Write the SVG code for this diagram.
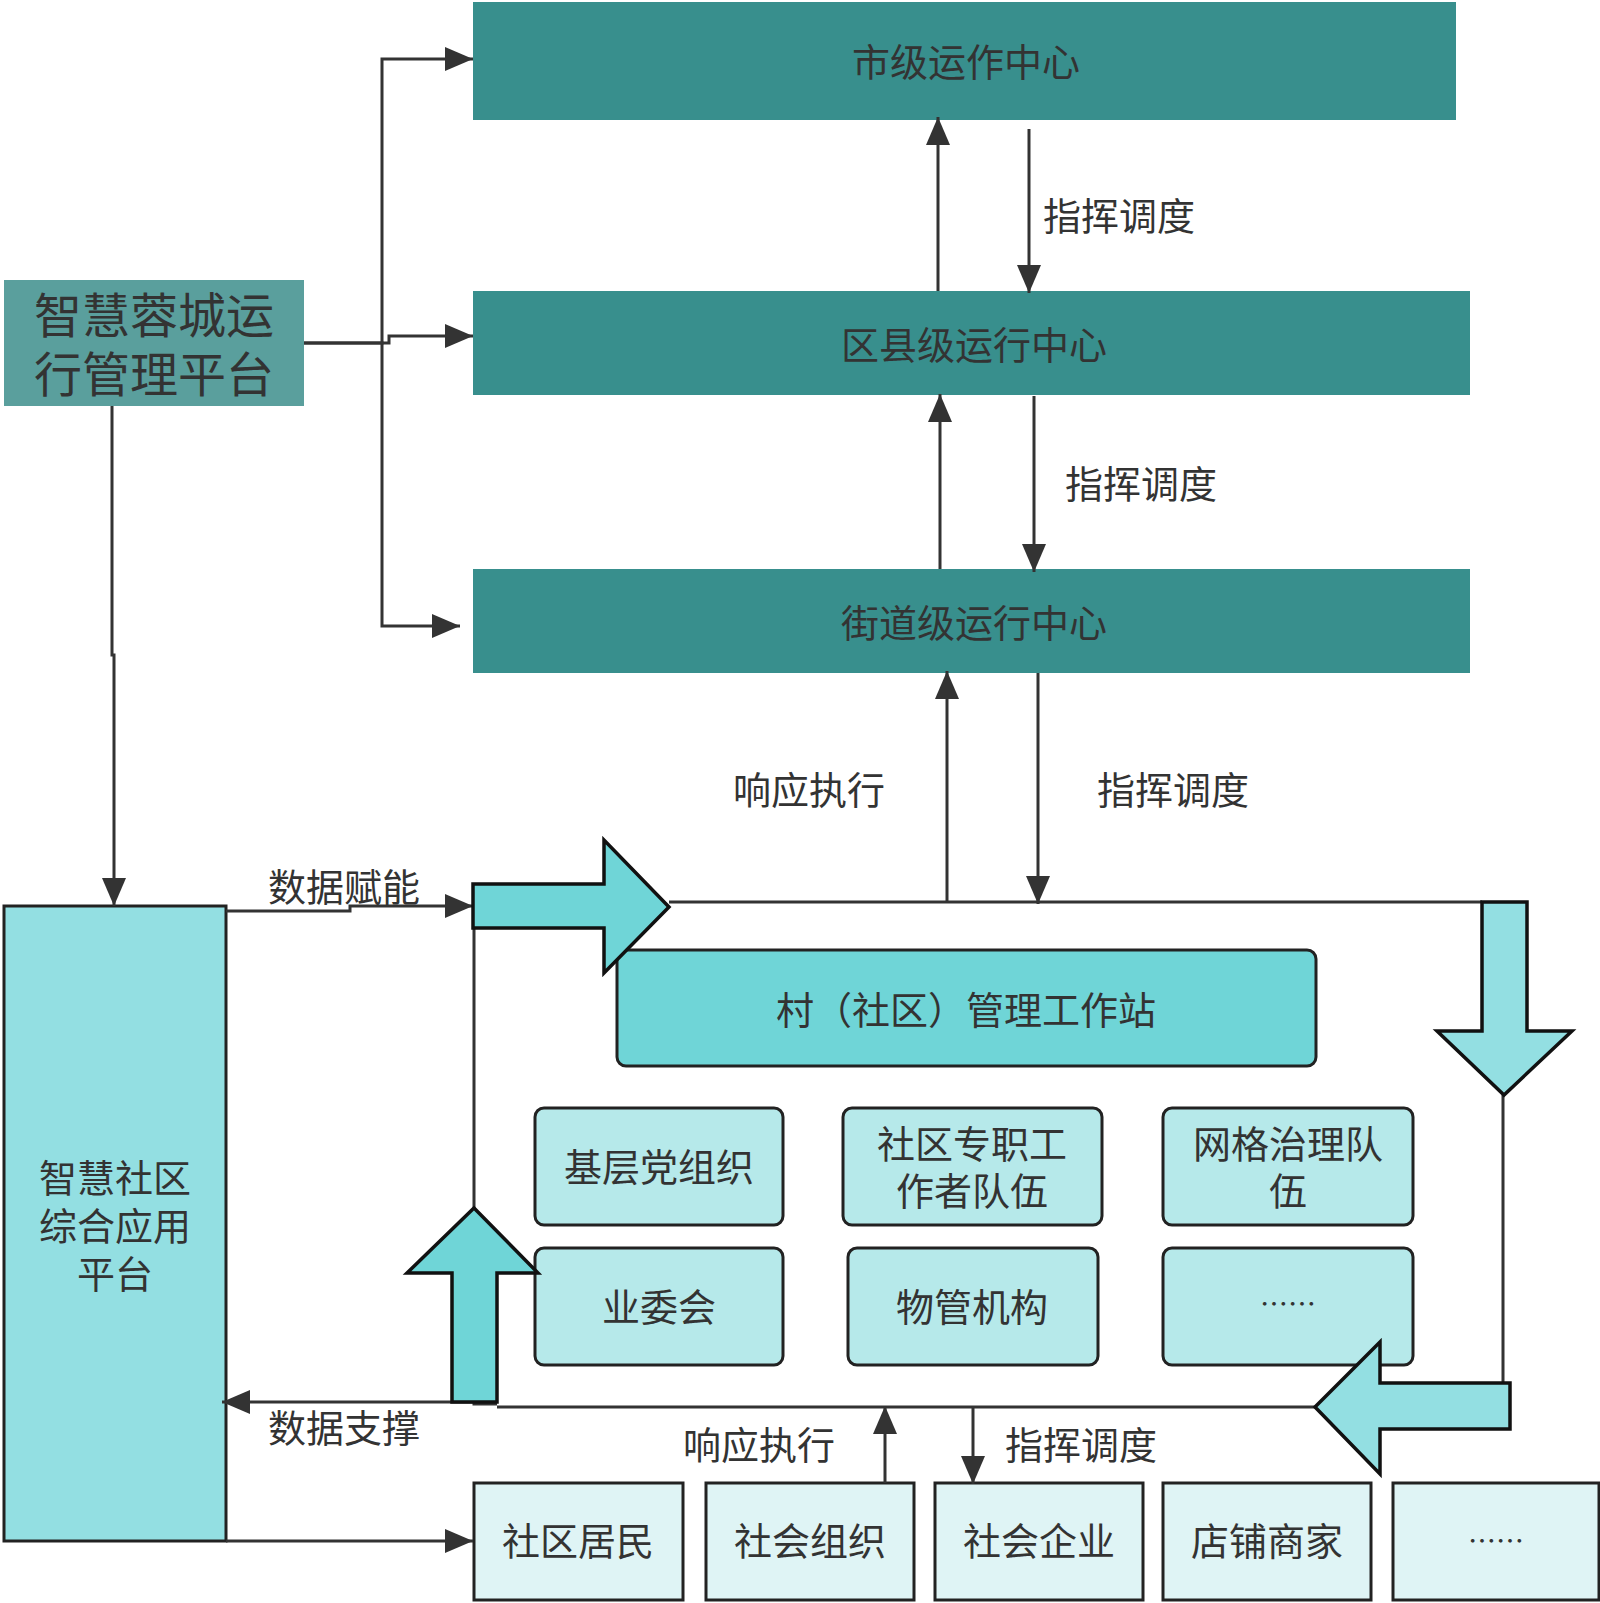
<svg xmlns="http://www.w3.org/2000/svg" width="1600" height="1603" viewBox="0 0 1600 1603">
<style>
text{font-family:"Noto Sans CJK SC","Noto Sans",sans-serif;fill:#333;text-anchor:middle;dominant-baseline:central;font-size:38px}
text.lbl{text-anchor:start}
text.big-t{font-size:48px}
text.dots{font-size:28px}
.top{fill:#388f8d}
.c{fill:none;stroke:#333;stroke-width:3}
.box{stroke:#222;stroke-width:3}
.inner{fill:#b6e9ea}
.bot{fill:#dff4f5}
.big{stroke:#111;stroke-width:3.5;stroke-linejoin:miter}
</style>
<defs>
<marker id="ah" viewBox="0 0 28 24" refX="28" refY="12" markerWidth="28" markerHeight="24" markerUnits="userSpaceOnUse" orient="auto"><path d="M0,0 L28,12 L0,24 z" fill="#333"/></marker>
</defs>
<rect width="1600" height="1603" fill="#fff"/>

<g id="city"><rect class="top" x="473" y="2" width="983" height="118"/><text x="966" y="59">市级运作中心</text></g>
<g id="district"><rect class="top" x="473" y="291" width="997" height="104"/><text x="974" y="342">区县级运行中心</text></g>
<g id="street"><rect class="top" x="473" y="569" width="997" height="104"/><text x="974" y="620">街道级运行中心</text></g>
<g id="platform"><rect x="4" y="280" width="300" height="126" fill="#5a9f9d"/><text class="big-t" x="154" y="312">智慧蓉城运</text><text class="big-t" x="154" y="371">行管理平台</text></g>
<g id="community-app"><rect class="box" x="4" y="906" width="222" height="635" fill="#93dfe2"/><text x="115" y="1175">智慧社区</text><text x="115" y="1223">综合应用</text><text x="115" y="1271">平台</text></g>

<g id="station"><rect class="box" x="617" y="950" width="699" height="116" rx="9" fill="#6fd5d7"/><text x="966" y="1007">村（社区）管理工作站</text></g>
<g id="party"><rect class="box inner" x="535" y="1108" width="248" height="117" rx="9"/><text x="659" y="1164">基层党组织</text></g>
<g id="workers"><rect class="box inner" x="843" y="1108" width="259" height="117" rx="9"/><text x="972" y="1141">社区专职工</text><text x="972" y="1188">作者队伍</text></g>
<g id="grid"><rect class="box inner" x="1163" y="1108" width="250" height="117" rx="9"/><text x="1288" y="1141">网格治理队</text><text x="1288" y="1188">伍</text></g>
<g id="owners"><rect class="box inner" x="535" y="1248" width="248" height="117" rx="9"/><text x="659" y="1304">业委会</text></g>
<g id="property"><rect class="box inner" x="848" y="1248" width="250" height="117" rx="9"/><text x="972" y="1304">物管机构</text></g>
<g id="more1"><rect class="box inner" x="1163" y="1248" width="250" height="117" rx="9"/><text class="dots" x="1288" y="1303">……</text></g>

<g id="residents"><rect class="box bot" x="474" y="1483" width="209" height="117"/><text x="578" y="1538">社区居民</text></g>
<g id="social-org"><rect class="box bot" x="706" y="1483" width="208" height="117"/><text x="810" y="1538">社会组织</text></g>
<g id="enterprise"><rect class="box bot" x="935" y="1483" width="208" height="117"/><text x="1039" y="1538">社会企业</text></g>
<g id="shops"><rect class="box bot" x="1163" y="1483" width="208" height="117"/><text x="1267" y="1538">店铺商家</text></g>
<g id="more2"><rect class="box bot" x="1393" y="1483" width="206" height="117"/><text class="dots" x="1496" y="1540">……</text></g>

<g id="connectors">
<path class="c" d="M304,343 H382 V59 H473" marker-end="url(#ah)"/>
<path class="c" d="M304,343 H382 V626 H460" marker-end="url(#ah)"/>
<path class="c" d="M382,343 H389 V336 H473" marker-end="url(#ah)"/>
<path class="c" d="M112,406 V655 H114 V906" marker-end="url(#ah)"/>
<path class="c" d="M938,291 V117" marker-end="url(#ah)"/>
<path class="c" d="M1029,129 V293" marker-end="url(#ah)"/>
<path class="c" d="M940,569 V394" marker-end="url(#ah)"/>
<path class="c" d="M1034,396 V572" marker-end="url(#ah)"/>
<path class="c" d="M947,902 V671" marker-end="url(#ah)"/>
<path class="c" d="M1038,673 V904" marker-end="url(#ah)"/>
<path class="c" d="M226,911 H350 V906 H473" marker-end="url(#ah)"/>
<path class="c" d="M474,1402 H350 V1402 H222" marker-end="url(#ah)"/>
<path class="c" d="M226,1541 H473" marker-end="url(#ah)"/>
<path class="c" d="M885,1483 V1406" marker-end="url(#ah)"/>
<path class="c" d="M973,1407 V1484" marker-end="url(#ah)"/>
<path class="c" d="M669,902 H1482"/>
<path class="c" d="M474,928 V1208"/>
<path class="c" d="M1503,1095 V1383"/>
<path class="c" d="M1315,1407 H497 M497,1404 H474 V1402"/>
<polygon class="big" fill="#6fd5d7" points="473,884 604,884 604,840 669,907 604,973 604,928 473,928"/>
<polygon class="big" fill="#93dfe2" points="1482,902 1527,902 1527,1031 1572,1031 1504,1095 1437,1031 1482,1031"/>
<polygon class="big" fill="#93dfe2" points="1510,1383 1380,1383 1380,1342 1315,1407 1380,1474 1380,1429 1510,1429"/>
<polygon class="big" fill="#6fd5d7" points="474,1208 538,1273 497,1273 497,1402 452,1402 452,1273 407,1273"/>
</g>

<g id="labels">
<text class="lbl" x="1043" y="213">指挥调度</text>
<text class="lbl" x="1065" y="481">指挥调度</text>
<text class="lbl" x="733" y="787">响应执行</text>
<text class="lbl" x="1097" y="787">指挥调度</text>
<text class="lbl" x="268" y="884">数据赋能</text>
<text class="lbl" x="268" y="1425">数据支撑</text>
<text class="lbl" x="683" y="1442">响应执行</text>
<text class="lbl" x="1005" y="1442">指挥调度</text>
</g>
</svg>
